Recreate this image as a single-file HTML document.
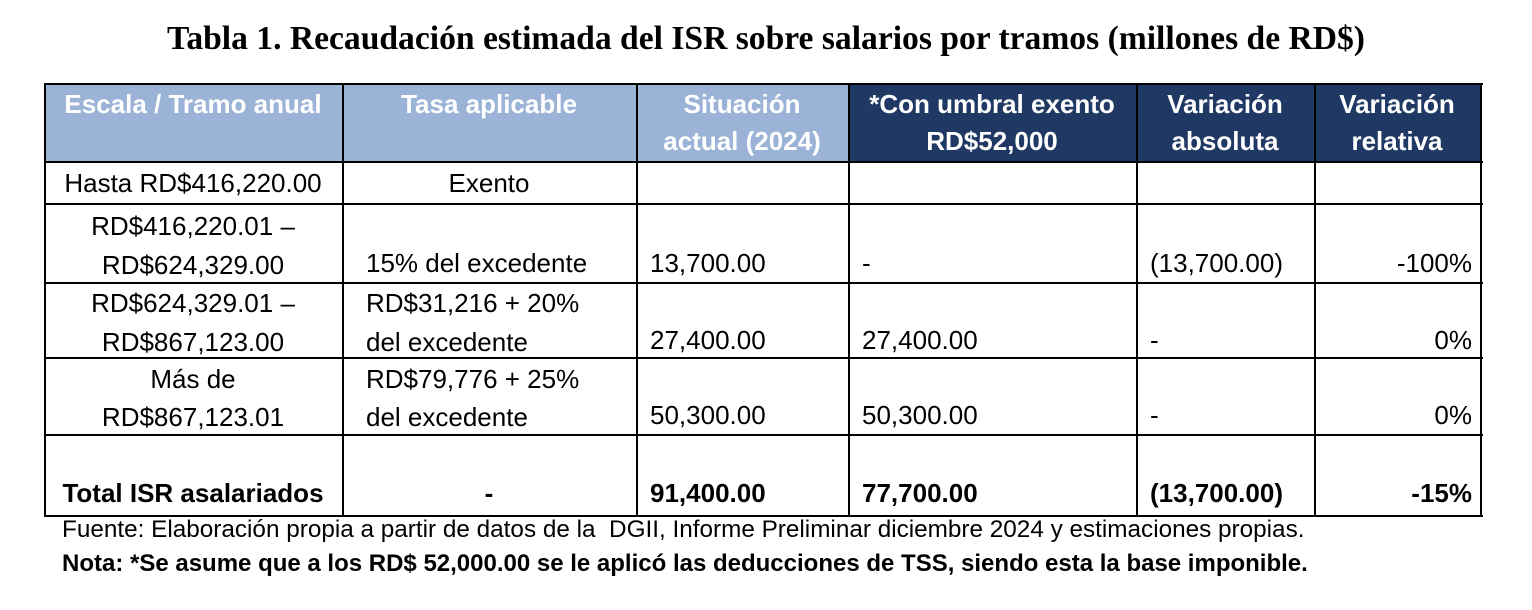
<!DOCTYPE html>
<html><head><meta charset="utf-8"><style>
body{margin:0;width:1532px;height:610px;background:#fff;position:relative;overflow:hidden;font-family:"Liberation Sans",sans-serif;}
.t{position:absolute;font-size:26px;line-height:30px;color:#000;white-space:nowrap;}
.c{text-align:center;}
.r{text-align:right;}
.b{font-weight:bold;}
.h{color:#fff;font-weight:bold;font-size:26px;line-height:37px;}
.v{position:absolute;background:#000;width:2px;}
.hl{position:absolute;background:#000;height:2px;left:44px;width:1439px;}
.bg{position:absolute;}
</style></head><body>
<div class="t c" style="left:0;width:1532px;top:20px;font-family:'Liberation Serif',serif;font-weight:bold;font-size:33.6px;line-height:38px;">Tabla 1. Recaudación estimada del ISR sobre salarios por tramos (millones de RD$)</div>

<div class="bg" style="left:44px;top:83px;width:805px;height:79px;background:#9bb3d6"></div>
<div class="bg" style="left:849px;top:83px;width:633px;height:79px;background:#1f3864"></div>

<div class="hl" style="top:83px"></div>
<div class="hl" style="top:161px"></div>
<div class="hl" style="top:203px"></div>
<div class="hl" style="top:282px"></div>
<div class="hl" style="top:357px"></div>
<div class="hl" style="top:434px"></div>
<div class="hl" style="top:515px"></div>
<div class="v" style="left:44px;top:83px;height:434px"></div>
<div class="v" style="left:342px;top:83px;height:434px"></div>
<div class="v" style="left:636px;top:83px;height:434px"></div>
<div class="v" style="left:848px;top:83px;height:434px"></div>
<div class="v" style="left:1136px;top:83px;height:434px"></div>
<div class="v" style="left:1314px;top:83px;height:434px"></div>
<div class="v" style="left:1480px;top:83px;height:434px"></div>

<!-- header -->
<div class="t c h" style="left:44px;width:298px;top:86px">Escala / Tramo anual</div>
<div class="t c h" style="left:342px;width:294px;top:86px">Tasa aplicable</div>
<div class="t c h" style="left:636px;width:212px;top:86px">Situación<br>actual (2024)</div>
<div class="t c h" style="left:848px;width:288px;top:86px">*Con umbral exento<br>RD$52,000</div>
<div class="t c h" style="left:1136px;width:178px;top:86px">Variación<br>absoluta</div>
<div class="t c h" style="left:1314px;width:166px;top:86px">Variación<br>relativa</div>

<!-- row1 -->
<div class="t c" style="left:44px;width:298px;top:168px">Hasta RD$416,220.00</div>
<div class="t c" style="left:342px;width:294px;top:168px">Exento</div>

<!-- row2 -->
<div class="t c" style="left:44px;width:298px;top:207px;line-height:39px">RD$416,220.01 –<br>RD$624,329.00</div>
<div class="t" style="left:366px;top:248px">15% del excedente</div>
<div class="t" style="left:650px;top:248px">13,700.00</div>
<div class="t" style="left:862px;top:248px">-</div>
<div class="t" style="left:1150px;top:248px">(13,700.00)</div>
<div class="t r" style="left:1314px;width:158px;top:248px">-100%</div>

<!-- row3 -->
<div class="t c" style="left:44px;width:298px;top:284px;line-height:39px">RD$624,329.01 –<br>RD$867,123.00</div>
<div class="t" style="left:366px;top:284px;line-height:39px">RD$31,216 + 20%<br>del excedente</div>
<div class="t" style="left:650px;top:325px">27,400.00</div>
<div class="t" style="left:862px;top:325px">27,400.00</div>
<div class="t" style="left:1150px;top:325px">-</div>
<div class="t r" style="left:1314px;width:158px;top:325px">0%</div>

<!-- row4 -->
<div class="t c" style="left:44px;width:298px;top:360px;line-height:38px">Más de<br>RD$867,123.01</div>
<div class="t" style="left:366px;top:360px;line-height:38px">RD$79,776 + 25%<br>del excedente</div>
<div class="t" style="left:650px;top:400px">50,300.00</div>
<div class="t" style="left:862px;top:400px">50,300.00</div>
<div class="t" style="left:1150px;top:400px">-</div>
<div class="t r" style="left:1314px;width:158px;top:400px">0%</div>

<!-- total -->
<div class="t c b" style="left:44px;width:298px;top:478px">Total ISR asalariados</div>
<div class="t c b" style="left:342px;width:294px;top:478px">-</div>
<div class="t b" style="left:650px;top:478px">91,400.00</div>
<div class="t b" style="left:862px;top:478px">77,700.00</div>
<div class="t b" style="left:1150px;top:478px">(13,700.00)</div>
<div class="t r b" style="left:1314px;width:158px;top:478px">-15%</div>

<div class="t" style="left:62px;top:515px;font-size:24.3px">Fuente: Elaboración propia a partir de datos de la &nbsp;DGII, Informe Preliminar diciembre 2024 y estimaciones propias.</div>
<div class="t b" style="left:62px;top:549px;font-size:24px">Nota: *Se asume que a los RD$ 52,000.00 se le aplicó las deducciones de TSS, siendo esta la base imponible.</div>
</body></html>
